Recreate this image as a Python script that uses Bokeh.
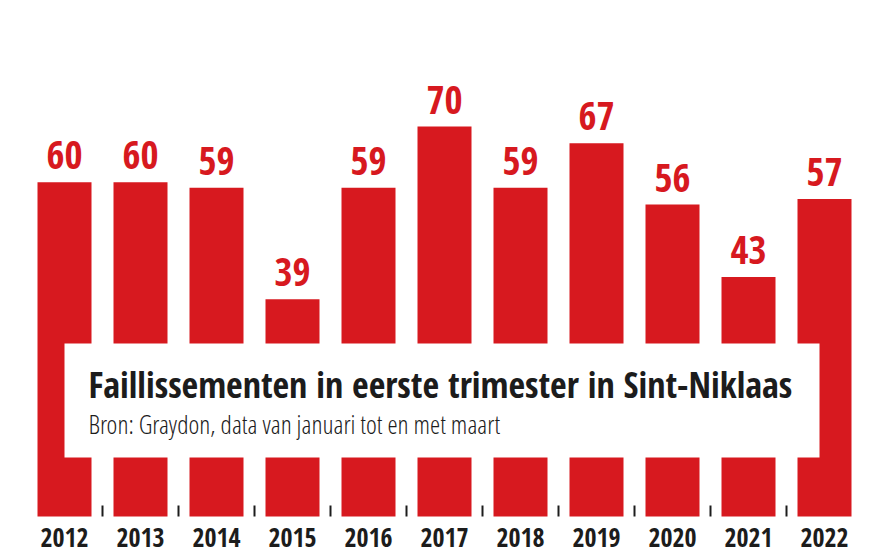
from bokeh.plotting import figure
from bokeh.models import Range1d, BoxAnnotation, Label, ColumnDataSource
from bokeh.core.properties import value
from bokeh.embed import file_html
from bokeh.resources import INLINE

years = [2012, 2013, 2014, 2015, 2016, 2017, 2018, 2019, 2020, 2021, 2022]
counts = [60, 60, 59, 39, 59, 70, 59, 67, 56, 43, 57]
year_labels = [str(y) for y in years]
title_text = "Faillissementen in eerste trimester in Sint-Niklaas"
subtitle_text = "Bron: Graydon, data van januari tot en met maart"

RED = "#d7191f"
DARK = "#1c1c1c"
FONT = "Open Sans Condensed"
FONT_LIGHT = "Open Sans Condensed Light"

W, H = 873, 558
PX_X0, PX_PER_X = 64.0, 76.0
PX_Y0, PX_PER_Y = 516.0, 5.571

def dx(px):
    return years[0] + (px - PX_X0) / PX_PER_X

def dy(py):
    return (PX_Y0 - py) / PX_PER_Y

p = figure(width=W, height=H, output_backend="svg", toolbar_location=None,
           x_range=Range1d(dx(0), dx(W)), y_range=Range1d(dy(H), dy(0)),
           min_border=0)
p.axis.visible = False
p.grid.visible = False
p.outline_line_color = None
p.background_fill_color = "white"
p.border_fill_color = "white"

src = ColumnDataSource(dict(x=years, top=counts, lab=[str(c) for c in counts], ylab=year_labels))

p.vbar(x="x", top="top", bottom=0, width=54 / PX_PER_X, source=src,
       fill_color=RED, line_color=None)

p.text(x="x", y="top", text="lab", source=src, text_color=RED,
       text_font=value(FONT), text_font_style="bold", text_font_size="39px",
       text_align="center", text_baseline="alphabetic", y_offset=-27)

p.text(x="x", y=0, text="ylab", source=src, text_color=DARK,
       text_font=value(FONT), text_font_style="bold", text_font_size="26px",
       text_align="center", text_baseline="middle", y_offset=21)

tick_x = [y + 0.5 for y in years[:-1]]
p.segment(x0=tick_x, x1=tick_x, y0=[0] * len(tick_x), y1=[dy(505)] * len(tick_x),
          line_color=DARK, line_width=2)

box = BoxAnnotation(left=dx(64), right=dx(819), bottom=dy(457), top=dy(343),
                    fill_color="white", fill_alpha=1.0, line_alpha=0)
p.add_layout(box)

p.add_layout(Label(x=dx(88), y=dy(384), text=title_text, text_color=DARK,
                   text_font=FONT, text_font_style="bold", text_font_size="36px",
                   text_baseline="alphabetic"))
p.add_layout(Label(x=dx(88), y=dy(423), text=subtitle_text, text_color=DARK,
                   text_font=FONT_LIGHT, text_font_size="26px",
                   text_baseline="alphabetic"))

open("out.html", "w").write(file_html(p, INLINE))
